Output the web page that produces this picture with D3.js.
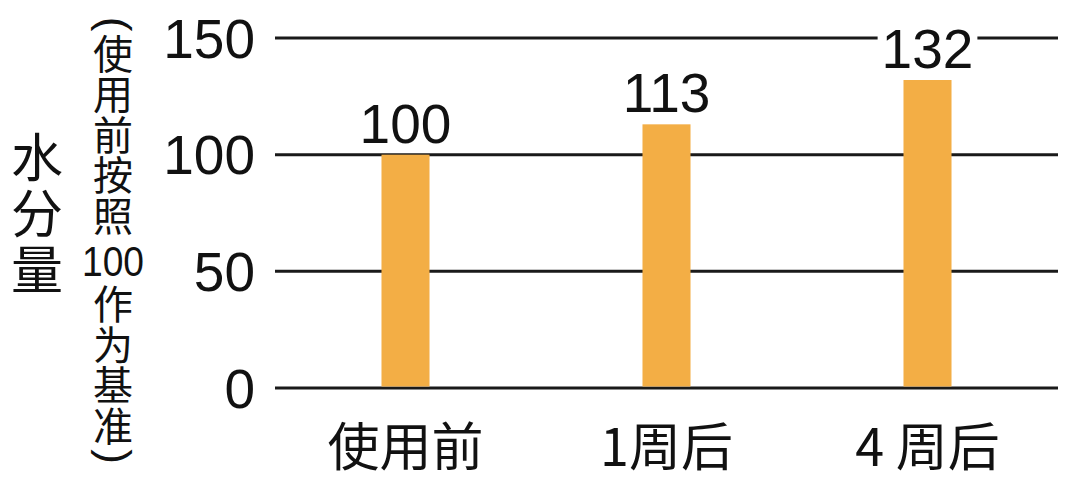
<!DOCTYPE html>
<html>
<head>
<meta charset="utf-8">
<script src="https://cdn.jsdelivr.net/npm/d3@7"></script>
<style>
  body { margin: 0; background: #fff; }
  svg { display: block; }
</style>
</head>
<body>
<div id="chart"></div>
<script>
// data
const categories = ["使用前", "1周后", "4 周后"];
const values = [100, 113, 132];
const yTicks = [0, 50, 100, 150];
const yTitle = ["水", "分", "量"];
const ySubTitle = ["(", "使", "用", "前", "按", "照", "100", "作", "为", "基", "准", ")"];

const width = 1080, height = 480;
const numFont = "'Liberation Sans', Arial, sans-serif";
const cjkFont = "'Noto Sans CJK SC', 'Noto Sans', sans-serif";

const svg = d3.select("#chart").append("svg")
  .attr("width", width)
  .attr("height", height);

const x = d3.scaleBand()
  .domain(categories)
  .range([275, 1058])
  .paddingInner(0.816)
  .paddingOuter(0.408);

const y = d3.scaleLinear()
  .domain([0, 150])
  .range([388, 38]);

// gridlines
svg.append("g")
  .selectAll("line")
  .data(yTicks)
  .enter()
  .append("line")
  .attr("x1", 275)
  .attr("x2", 1058)
  .attr("y1", d => y(d))
  .attr("y2", d => y(d))
  .attr("stroke", "#1a1a1a")
  .attr("stroke-width", 3);

// tick labels
svg.append("g")
  .selectAll("text")
  .data(yTicks)
  .enter()
  .append("text")
  .attr("x", 255)
  .attr("y", d => y(d))
  .attr("dy", "0.36em")
  .attr("text-anchor", "end")
  .style("font-family", numFont)
  .style("font-size", "55px")
  .style("fill", "#111")
  .text(d => d);

// bars
svg.append("g")
  .selectAll("rect")
  .data(values)
  .enter()
  .append("rect")
  .attr("x", (d, i) => x(categories[i]))
  .attr("width", x.bandwidth())
  .attr("y", d => y(d))
  .attr("height", d => y(0) - y(d) - 1.5)
  .attr("fill", "#F3AE45");

// value labels with a white box behind, so the top gridline breaks around them
const valueG = svg.append("g");
const valueLabels = valueG.selectAll("text")
  .data(values)
  .enter()
  .append("text")
  .attr("x", (d, i) => x(categories[i]) + x.bandwidth() / 2)
  .attr("y", d => y(d) - 12)
  .attr("text-anchor", "middle")
  .style("font-family", numFont)
  .style("font-size", "55px")
  .style("fill", "#111")
  .text(d => d);

valueLabels.each(function () {
  const b = this.getBBox();
  valueG.insert("rect", "text")
    .attr("x", b.x - 4)
    .attr("y", b.y + 6)
    .attr("width", b.width + 8)
    .attr("height", b.height - 10)
    .attr("fill", "#fff");
});

// category labels
svg.append("g")
  .selectAll("text")
  .data(categories)
  .enter()
  .append("text")
  .attr("x", d => x(d) + x.bandwidth() / 2)
  .attr("y", 466)
  .attr("text-anchor", "middle")
  .style("font-family", cjkFont)
  .style("font-size", "52px")
  .style("fill", "#111")
  .text(d => d);

// y title, stacked vertically
svg.append("g")
  .selectAll("text")
  .data(yTitle)
  .enter()
  .append("text")
  .attr("x", 37)
  .attr("y", (d, i) => 158 + i * 56)
  .attr("dy", "0.36em")
  .attr("text-anchor", "middle")
  .style("font-family", cjkFont)
  .style("font-size", "52px")
  .style("fill", "#111")
  .text(d => d);

// y subtitle, stacked vertically; brackets turned a quarter so they read top/bottom
const isBracket = d => d === "(" || d === ")";
let subY = 14;
const subPos = ySubTitle.map(d => {
  const h = d === "100" ? 48 : (isBracket(d) ? 20 : 40.5);
  const c = subY + h / 2;
  subY += h;
  return c;
});

svg.append("g")
  .selectAll("text")
  .data(ySubTitle)
  .enter()
  .append("text")
  .attr("transform", (d, i) => isBracket(d)
    ? `translate(113,${subPos[i]}) rotate(90)`
    : `translate(113,${subPos[i]})`)
  .attr("dy", d => isBracket(d) ? "0.3em" : "0.36em")
  .attr("text-anchor", "middle")
  .attr("textLength", d => d === "100" ? 62 : null)
  .attr("lengthAdjust", "spacingAndGlyphs")
  .style("font-family", d => (isBracket(d) || d === "100") ? numFont : cjkFont)
  .style("font-size", d => d === "100" ? "42px" : (isBracket(d) ? "44px" : "40px"))
  .style("fill", "#111")
  .text(d => d);
</script>
</body>
</html>
